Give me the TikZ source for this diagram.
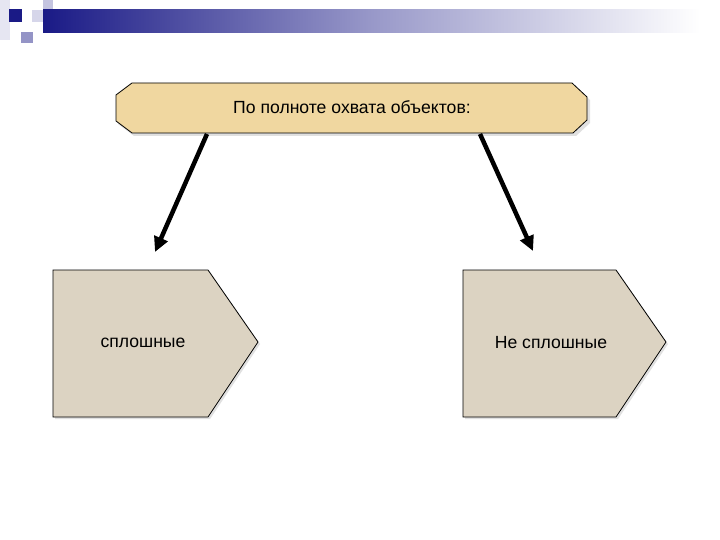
\documentclass[tikz,border=0pt]{standalone}
\usepackage{fontspec}
\setmainfont{Liberation Sans}
\usetikzlibrary{arrows.meta}
\definecolor{topfill}{HTML}{F0D7A0}
\definecolor{pentfill}{HTML}{DCD3C2}
\definecolor{navy}{HTML}{1A1A86}
\definecolor{lav1}{HTML}{E6E6F2}
\definecolor{lav2}{HTML}{C4C4E0}
\definecolor{lav3}{HTML}{D6D6EA}
\definecolor{lav4}{HTML}{9494C6}
\tikzset{
  boxline/.style={draw=black, line width=0.8pt, line join=miter},
  label/.style={font=\fontsize{17.6}{19}\selectfont, text=black, inner sep=0pt},
  bigarrow/.style={line width=4.5pt, -{Triangle[length=15pt,width=14pt]}, black},
  shadowc/.style={fill=black!12, draw=none}
}
\begin{document}
\begin{tikzpicture}[x=1pt,y=-1pt]
\useasboundingbox (0,0) rectangle (720,540);
\fill[white] (0,0) rectangle (720,540);
% top-left decoration
\fill[lav1] (0,0) rectangle (10,40);
\fill[lav2] (43,0) rectangle (53,22);
\fill[lav3] (32,10) rectangle (43,22);
\fill[lav4] (21,32) rectangle (33,43);
\fill[navy] (9,9) rectangle (22,22);
\shade[left color=navy, right color=white, middle color=navy!45!white] (43,10) rectangle (700,33);
% top box
\fill[shadowc] (134,86) -- (575,86) -- (590,100) -- (590,123) -- (576,136) -- (134,136) -- (118,124) -- (118,98) -- cycle;
\draw[boxline, fill=topfill] (132,83) -- (572,83) -- (587,97) -- (587,120) -- (573,133) -- (132,133) -- (116,121) -- (116,95) -- cycle;
\node[label] (top) at (352,107) {По полноте охвата объектов:};
% pentagons
\fill[shadowc] (55,272) -- (210,272) -- (260,344) -- (210,419) -- (55,419) -- cycle;
\draw[boxline, fill=pentfill] (53,270) -- (208,270) -- (258,342) -- (208,417) -- (53,417) -- cycle;
\node[label] (left) at (143,343) {сплошные};
\fill[shadowc] (465,272) -- (618,272) -- (668,344) -- (618,419) -- (465,419) -- cycle;
\draw[boxline, fill=pentfill] (463,270) -- (616,270) -- (666,342) -- (616,417) -- (463,417) -- cycle;
\node[label] (right) at (551,343) {Не сплошные};
% arrows
\coordinate (ls) at (207,134);
\coordinate (le) at (155,252);
\coordinate (rs) at (480,134);
\coordinate (re) at (533,251);
\draw[bigarrow] (ls) -- (le);
\draw[bigarrow] (rs) -- (re);
\end{tikzpicture}
\end{document}
